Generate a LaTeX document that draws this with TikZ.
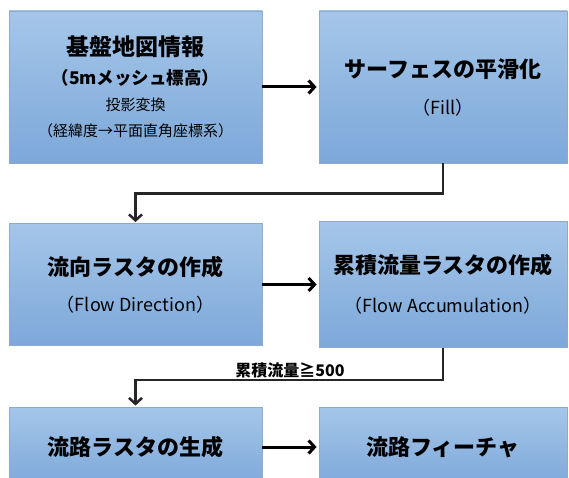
\documentclass[tikz,border=0pt]{standalone}
\usepackage{fontspec}
\setmainfont{Noto Sans CJK JP}
\usetikzlibrary{arrows.meta}
\definecolor{boxtop}{HTML}{A5C6E9}
\definecolor{boxbot}{HTML}{7DA8D9}
\definecolor{boxline}{HTML}{8EA9CB}
\definecolor{conncol}{HTML}{262626}
\tikzset{
  box/.style={rectangle, draw=boxline, line width=0.8pt, top color=boxtop, bottom color=boxbot,
    inner sep=0pt, align=center, text=black, font=\fontsize{15}{26}\selectfont},
  hflow/.style={line width=3pt, black, -{Straight Barb[length=6pt,width=13pt]}, shorten >=2pt},
  elbow/.style={line width=2.5pt, conncol, -{Straight Barb[length=6pt,width=13pt]}, shorten >=1pt},
}
\begin{document}
\begin{tikzpicture}[x=1pt,y=-1pt]
\useasboundingbox (0,0) rectangle (569,478);
\clip (0,0) rectangle (569,478);
\fill[white] (0,0) rectangle (569,478);

\node[box, minimum width=253pt, minimum height=152pt] (b1) at (135.5,87)
  {{\bfseries\fontsize{23}{26}\selectfont 基盤地図情報}\\[3pt]
   {\bfseries\fontsize{17.5}{26}\selectfont （5mメッシュ標高）}\\
   {\fontsize{15}{26}\selectfont 投影変換}\\
   {\fontsize{15}{26}\selectfont （経緯度→平面直角座標系）}};
\node[box, minimum width=248pt, minimum height=152pt] (b2) at (443,87)
  {{\bfseries\fontsize{22}{26}\selectfont サーフェスの平滑化}\\[11pt]
   {\fontsize{18}{26}\selectfont （Fill）}};
\node[box, minimum width=253pt, minimum height=122pt] (b3) at (135.5,284.5)
  {{\bfseries\fontsize{22}{26}\selectfont 流向ラスタの作成}\\[10pt]
   {\fontsize{18}{26}\selectfont （Flow Direction）}};
\node[box, minimum width=248pt, minimum height=126pt] (b4) at (443,284.5)
  {{\bfseries\fontsize{22}{26}\selectfont 累積流量ラスタの作成}\\[13pt]
   {\fontsize{18}{26}\selectfont （Flow Accumulation）}};
\node[box, minimum width=253pt, minimum height=80pt] (b5) at (135.5,447)
  {{\bfseries\fontsize{22}{26}\selectfont 流路ラスタの生成}};
\node[box, minimum width=248pt, minimum height=80pt] (b6) at (443,447)
  {{\bfseries\fontsize{22}{26}\selectfont 流路フィーチャ}};

\draw[hflow] (b1.east) -- (b2.west);
\draw[hflow] (b3.east) -- (b4.west);
\draw[hflow] (b5.east) -- (b6.west);

\draw[elbow] (b2.south) -- ++(0,30) -| (b3.north);
\draw[elbow] (b4.south) -- ++(0,32) -| (b5.north);
\node[font=\bfseries\fontsize{16}{18}\selectfont, anchor=base] (lbl) at (290,376) {累積流量≧500};
\end{tikzpicture}
\end{document}
